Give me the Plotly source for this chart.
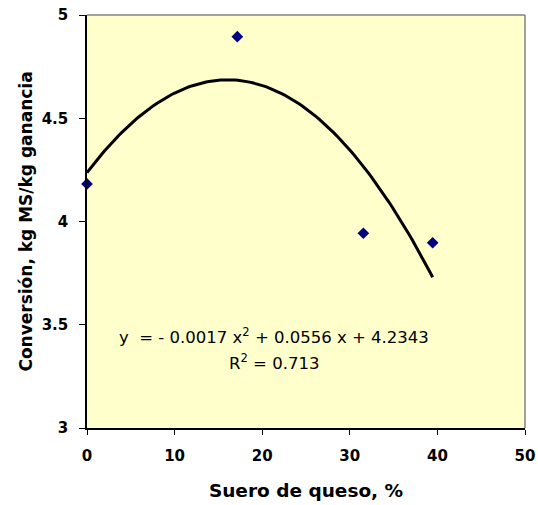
import numpy as np
import plotly.graph_objects as go

# Data
suero = [0, 17.16, 31.55, 39.46]          # Suero de queso, %
conversion = [4.182, 4.895, 3.943, 3.897]  # kg MS/kg ganancia
x_ticks = [0, 10, 20, 30, 40, 50]
y_ticks = [3, 3.5, 4, 4.5, 5]
eq_text = "y\u00a0 = - 0.0017 x<sup>2</sup> + 0.0556 x + 4.2343"
r2_text = "R<sup>2</sup> = 0.713"

# Polynomial (order 2) trendline fitted to the data
coef = np.polyfit(suero, conversion, 2)
xf = np.linspace(min(suero), max(suero), 120)
yf = np.polyval(coef, xf)

FONT = "DejaVu Sans, Arial, sans-serif"

fig = go.Figure()
fig.add_trace(go.Scatter(x=xf, y=yf, mode="lines",
                         line=dict(color="black", width=3), hoverinfo="skip",
                         showlegend=False))
fig.add_trace(go.Scatter(x=suero, y=conversion, mode="markers",
                         marker=dict(symbol="diamond", size=9, color="#000080",
                                     line=dict(width=0)),
                         showlegend=False, cliponaxis=False))

fig.update_layout(
    width=538, height=505,
    margin=dict(l=87, r=13, t=15, b=77, autoexpand=False),
    paper_bgcolor="white",
    plot_bgcolor="#FFFFCC",
    font=dict(family=FONT, color="black"),
    xaxis=dict(range=[0, 50], tickvals=x_ticks, ticks="outside", ticklen=5,
               tickcolor="black", showline=True, linecolor="black", linewidth=1.5,
               showgrid=False, zeroline=False, ticklabelstandoff=8,
               ticklabeloverflow="allow", automargin=False,
               tickfont=dict(size=15, family=FONT, weight="bold"),
               title=dict(text="Suero de queso, %", standoff=20,
                          font=dict(size=18.5, family=FONT, weight="bold"))),
    yaxis=dict(range=[3, 5], tickvals=y_ticks, ticks="outside", ticklen=6,
               tickcolor="black", showline=True, linecolor="black", linewidth=1.5,
               showgrid=False, zeroline=False, ticklabelstandoff=8,
               ticklabeloverflow="allow", automargin=False,
               tickfont=dict(size=15, family=FONT, weight="bold"),
               title=dict(text="Conversión, kg MS/kg ganancia", standoff=5,
                          font=dict(size=17, family=FONT, weight="bold"))),
    shapes=[
        dict(type="line", xref="paper", yref="paper", x0=0, x1=1, y0=1, y1=1,
             line=dict(color="#808080", width=1.5)),
        dict(type="line", xref="paper", yref="paper", x0=1, x1=1, y0=0, y1=1,
             line=dict(color="#808080", width=1.5)),
    ],
    annotations=[
        dict(x=21.35, y=3.445, xref="x", yref="y", text=eq_text, showarrow=False,
             font=dict(size=16.5, family=FONT, color="black")),
        dict(x=21.35, y=3.32, xref="x", yref="y", text=r2_text, showarrow=False,
             font=dict(size=16.5, family=FONT, color="black")),
    ],
)

fig.write_html("out.html", config={"displayModeBar": False},
               post_script="document.body.style.margin='0px';")
